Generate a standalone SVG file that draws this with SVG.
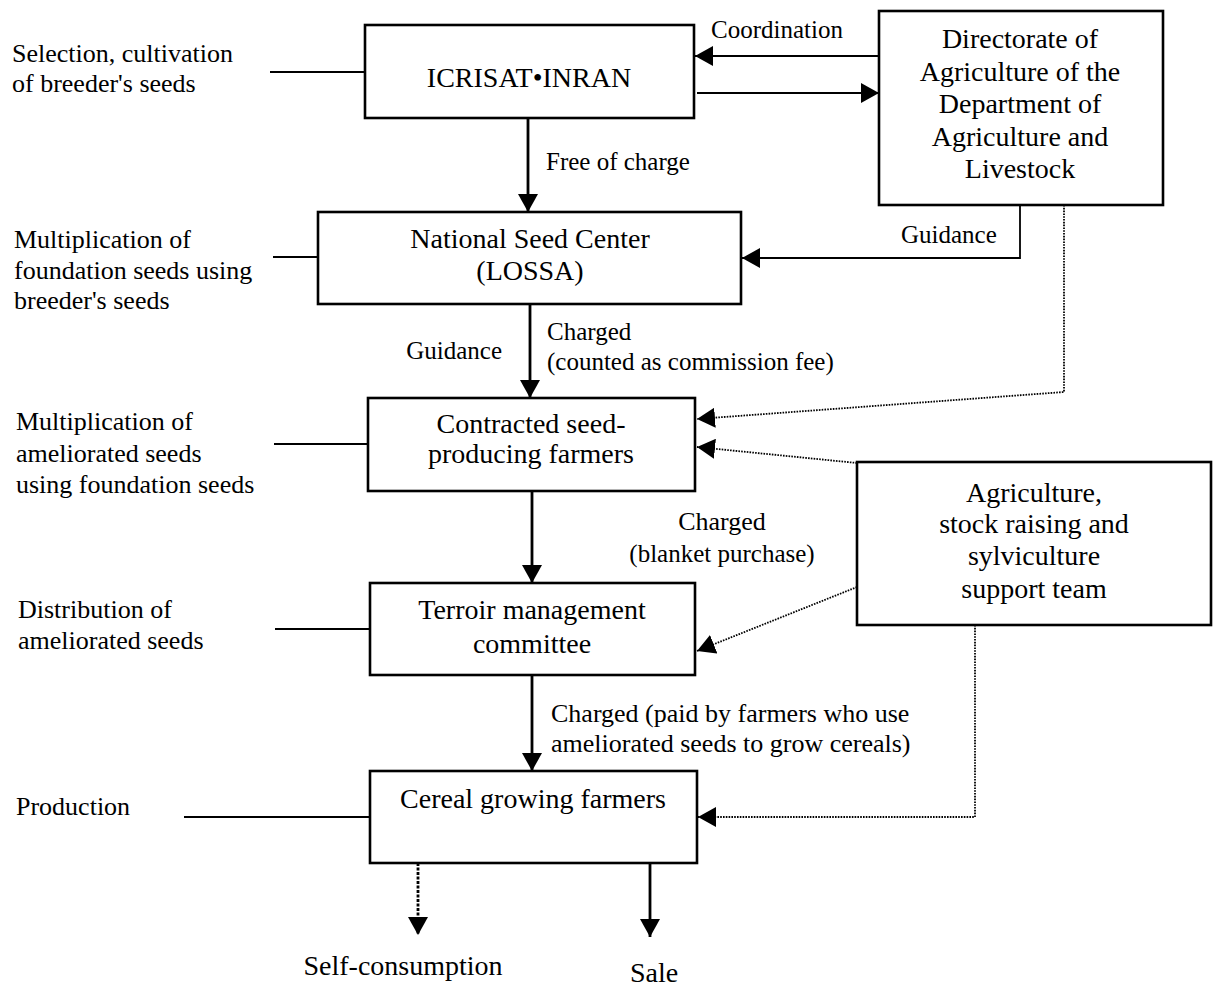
<svg xmlns="http://www.w3.org/2000/svg" width="1220" height="986" viewBox="0 0 1220 986">
<style>
text{font-family:"Liberation Serif","Times New Roman",serif;font-size:25px;fill:#000}
.c{text-anchor:middle}
.lb{font-size:26px}
.bt{font-size:28px}
.box{fill:#fff;stroke:#000;stroke-width:2.6}
.ln{fill:none;stroke:#000;stroke-width:1.8}
.ar{fill:none;stroke:#000;stroke-width:2.8}
.dt{fill:none;stroke:#000;stroke-width:1.8;stroke-dasharray:1.6 1.2}
.big{font-size:28px}
</style>
<defs>
<marker id="arr" viewBox="0 0 18 20" refX="18" refY="10" markerWidth="18" markerHeight="20" orient="auto" markerUnits="userSpaceOnUse">
<path d="M0,0 L18,10 L0,20 z" fill="#000"/>
</marker>
</defs>
<g id="labels">
<text class="lb" x="12" y="62">Selection, cultivation</text>
<text class="lb" x="12" y="92">of breeder's seeds</text>
<text class="lb" x="14" y="248">Multiplication of</text>
<text class="lb" x="14" y="279">foundation seeds using</text>
<text class="lb" x="14" y="309">breeder's seeds</text>
<text class="lb" x="16" y="430">Multiplication of</text>
<text class="lb" x="16" y="462">ameliorated seeds</text>
<text class="lb" x="16" y="493">using foundation seeds</text>
<text class="lb" x="18" y="618">Distribution of</text>
<text class="lb" x="18" y="649">ameliorated seeds</text>
<text class="lb" x="16" y="815">Production</text>
</g>
<g id="connectors">
<line class="ln" x1="270" y1="72" x2="365" y2="72"/>
<line class="ln" x1="273" y1="257" x2="318" y2="257"/>
<line class="ln" x1="274" y1="444" x2="368" y2="444"/>
<line class="ln" x1="275" y1="629" x2="370" y2="629"/>
<line class="ln" x1="184" y1="817" x2="370" y2="817"/>
<line class="ln" x1="879" y1="56" x2="695" y2="56" marker-end="url(#arr)"/>
<line class="ln" x1="697" y1="93" x2="879" y2="93" marker-end="url(#arr)"/>
<line class="ar" x1="528" y1="118" x2="528" y2="212" marker-end="url(#arr)"/>
<polyline class="ln" points="1020,205 1020,258 742,258" marker-end="url(#arr)"/>
<line class="ar" x1="530" y1="304" x2="530" y2="398" marker-end="url(#arr)"/>
<polyline class="dt" points="1064,205 1064,392 697,419" marker-end="url(#arr)"/>
<line class="dt" x1="857" y1="463" x2="697" y2="447" marker-end="url(#arr)"/>
<line class="ar" x1="532" y1="491" x2="532" y2="583" marker-end="url(#arr)"/>
<line class="dt" x1="857" y1="587" x2="697" y2="651" marker-end="url(#arr)"/>
<polyline class="dt" points="975,625 975,817 698,817" marker-end="url(#arr)"/>
<line class="ar" x1="532" y1="675" x2="532" y2="771" marker-end="url(#arr)"/>
<line class="ar" x1="418" y1="863" x2="418" y2="935" stroke-dasharray="3 1.5" marker-end="url(#arr)"/>
<line class="ar" x1="650" y1="863" x2="650" y2="937" marker-end="url(#arr)"/>
</g>
<g id="edge-labels">
<text x="711" y="38">Coordination</text>
<text x="546" y="170">Free of charge</text>
<text x="901" y="243">Guidance</text>
<text x="502" y="359" text-anchor="end">Guidance</text>
<text x="547" y="340">Charged</text>
<text x="547" y="370">(counted as commission fee)</text>
<text class="c lb" x="722" y="530">Charged</text>
<text class="c" x="722" y="562">(blanket purchase)</text>
<text class="lb" x="551" y="722">Charged (paid by farmers who use</text>
<text class="lb" x="551" y="752">ameliorated seeds to grow cereals)</text>
</g>
<g id="icrisat">
<rect class="box" x="365" y="25" width="329" height="93"/>
<text class="c bt" x="529" y="87">ICRISAT•INRAN</text>
</g>
<g id="directorate">
<rect class="box" x="879" y="11" width="284" height="194"/>
<text class="c bt" x="1020" y="48">Directorate of</text>
<text class="c bt" x="1020" y="81">Agriculture of the</text>
<text class="c bt" x="1020" y="113">Department of</text>
<text class="c bt" x="1020" y="146">Agriculture and</text>
<text class="c bt" x="1020" y="178">Livestock</text>
</g>
<g id="nsc">
<rect class="box" x="318" y="212" width="423" height="92"/>
<text class="c bt" x="530" y="248">National Seed Center</text>
<text class="c bt" x="530" y="280">(LOSSA)</text>
</g>
<g id="contracted">
<rect class="box" x="368" y="398" width="327" height="93"/>
<text class="c bt" x="531" y="433">Contracted seed-</text>
<text class="c bt" x="531" y="463">producing farmers</text>
</g>
<g id="agri-team">
<rect class="box" x="857" y="462" width="354" height="163"/>
<text class="c bt" x="1034" y="502">Agriculture,</text>
<text class="c bt" x="1034" y="533">stock raising and</text>
<text class="c bt" x="1034" y="565">sylviculture</text>
<text class="c bt" x="1034" y="598">support team</text>
</g>
<g id="terroir">
<rect class="box" x="370" y="583" width="325" height="92"/>
<text class="c bt" x="532" y="619">Terroir management</text>
<text class="c bt" x="532" y="653">committee</text>
</g>
<g id="cereal">
<rect class="box" x="370" y="771" width="327" height="92"/>
<text class="c bt" x="533" y="808">Cereal growing farmers</text>
</g>
<g id="outputs">
<text class="c big" x="403" y="975">Self-consumption</text>
<text class="c big" x="654" y="982">Sale</text>
</g>
</svg>
